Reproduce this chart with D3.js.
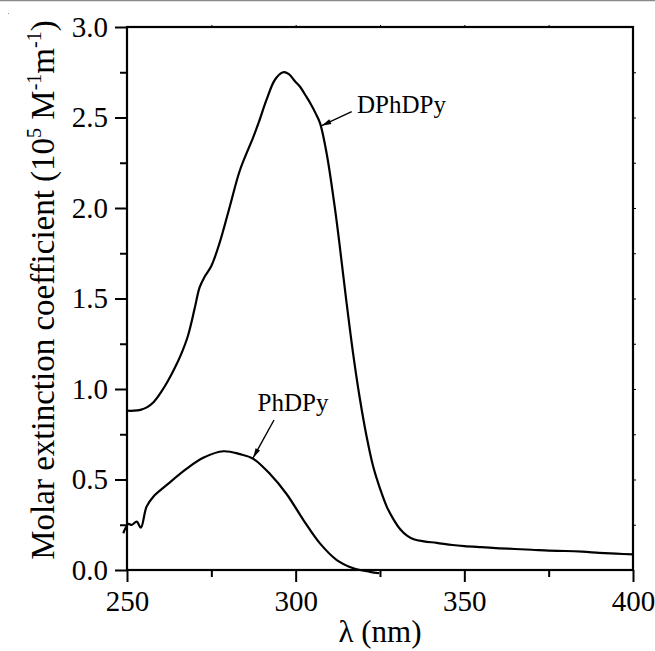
<!DOCTYPE html>
<html>
<head>
<meta charset="utf-8">
<script src="https://cdn.jsdelivr.net/npm/d3@7"></script>
<style>
  html, body { margin: 0; padding: 0; background: #fff; }
  svg { display: block; }
  text { font-family: "Liberation Serif", "Times New Roman", serif; fill: #000; }
</style>
</head>
<body>
<svg id="chart" width="655" height="651"></svg>
<script>
// ---- data ----
const dphdpyWavelength = [250,252,254,256,258,260,262,264,266,268,270,271.5,273,275,277.5,280.5,283.5,287.4,289,291.4,293.9,296.3,298,299.8,301.3,303,304.3,306,307.2,309.2,311.7,313,315,317,319,321,323,325,327,329,331,333,335,338,341.8,346.5,350,355,360.4,365,370,375,380,385,390,395,400];
const dphdpyValues     = [0.88,0.88,0.885,0.90,0.93,0.98,1.04,1.11,1.19,1.29,1.44,1.56,1.62,1.68,1.81,2.01,2.21,2.39,2.47,2.60,2.71,2.75,2.74,2.70,2.67,2.62,2.58,2.52,2.47,2.30,1.99,1.80,1.49,1.20,0.95,0.74,0.57,0.45,0.35,0.28,0.225,0.19,0.17,0.158,0.150,0.138,0.132,0.126,0.12,0.116,0.112,0.107,0.105,0.101,0.095,0.09,0.086];

const phdpyWavelength = [248.9,250.4,251.4,252.9,254.1,255.8,257.8,261.8,267.7,272.6,278.6,283.5,287.4,292.4,297.3,302.3,307.2,312.2,317.1,322,324.8];
const phdpyValues     = [0.203,0.254,0.249,0.267,0.234,0.35,0.405,0.47,0.56,0.62,0.656,0.64,0.615,0.53,0.42,0.276,0.147,0.055,0.01,-0.01,-0.018];

const xMajorTicks = [250,300,350,400];
const xMinorTicks = [275,325,375];
const yMajorTicks = [0,0.5,1.0,1.5,2.0,2.5,3.0];
const yMinorTicks = [0.25,0.75,1.25,1.75,2.25,2.75];

const seriesLabels = ["DPhDPy","PhDPy"];
const xTitle = "λ (nm)";

// ---- chart ----
const svg = d3.select("#chart");
const mLeft = 127, mRight = 633, mTop = 27, mBottom = 570;
const x = d3.scaleLinear().domain([250,400]).range([mLeft,mRight]);
const y = d3.scaleLinear().domain([0,3]).range([mBottom,mTop]);

// top gray rule
svg.append("line").attr("x1",0).attr("x2",655).attr("y1",0.5).attr("y2",0.5)
  .attr("stroke","#8a8a8a").attr("stroke-width",1.5);
svg.append("rect").attr("x",8).attr("y",13).attr("width",1).attr("height",1).attr("fill","#999");

const fontTick = 29;

// bottom axis (major)
const gx = svg.append("g").attr("transform",`translate(0,${mBottom})`)
  .call(d3.axisBottom(x).tickValues(xMajorTicks).tickSize(12).tickPadding(8).tickFormat(d3.format("d")));
gx.select(".domain").remove();
gx.selectAll(".tick line").attr("stroke","#000").attr("stroke-width",2);
gx.selectAll(".tick text").attr("font-size",fontTick).attr("font-family","Liberation Serif");
const gxm = svg.append("g").attr("transform",`translate(0,${mBottom})`)
  .call(d3.axisBottom(x).tickValues(xMinorTicks).tickSize(7).tickFormat(""));
gxm.select(".domain").remove();
gxm.selectAll(".tick line").attr("stroke","#000").attr("stroke-width",2);

// left axis
const gy = svg.append("g").attr("transform",`translate(${mLeft},0)`)
  .call(d3.axisLeft(y).tickValues(yMajorTicks).tickSize(12).tickPadding(7).tickFormat(d3.format(".1f")));
gy.select(".domain").remove();
gy.selectAll(".tick line").attr("stroke","#000").attr("stroke-width",2);
gy.selectAll(".tick text").attr("font-size",fontTick).attr("font-family","Liberation Serif");
const gym = svg.append("g").attr("transform",`translate(${mLeft},0)`)
  .call(d3.axisLeft(y).tickValues(yMinorTicks).tickSize(7).tickFormat(""));
gym.select(".domain").remove();
gym.selectAll(".tick line").attr("stroke","#000").attr("stroke-width",2);

// top and right small ticks
const gt = svg.append("g").attr("transform",`translate(0,${mTop})`)
  .call(d3.axisTop(x).tickValues([275,300,325,350,375]).tickSize(2).tickFormat(""));
gt.select(".domain").remove();
gt.selectAll(".tick line").attr("stroke","#000").attr("stroke-width",1);
const gr = svg.append("g").attr("transform",`translate(${mRight},0)`)
  .call(d3.axisRight(y).tickValues(yMinorTicks.concat([0.5,1,1.5,2,2.5])).tickSize(3).tickFormat(""));
gr.select(".domain").remove();
gr.selectAll(".tick line").attr("stroke","#000").attr("stroke-width",1);

// frame
svg.append("rect").attr("x",mLeft).attr("y",mTop).attr("width",mRight-mLeft).attr("height",mBottom-mTop)
  .attr("fill","none").attr("stroke","#000").attr("stroke-width",2.2);

// curves
const line = d3.line().x(d => x(d[0])).y(d => y(d[1])).curve(d3.curveCatmullRom.alpha(0.5));
svg.append("path").datum(d3.zip(dphdpyWavelength, dphdpyValues))
  .attr("d",line).attr("fill","none").attr("stroke","#000").attr("stroke-width",2.2).attr("stroke-linejoin","round");
svg.append("path").datum(d3.zip(phdpyWavelength, phdpyValues))
  .attr("d",line).attr("fill","none").attr("stroke","#000").attr("stroke-width",2.2).attr("stroke-linejoin","round");

// arrows
const defs = svg.append("defs");
defs.append("marker").attr("id","arr").attr("viewBox","0 0 12 10").attr("refX",12).attr("refY",5)
  .attr("markerWidth",11).attr("markerHeight",8).attr("markerUnits","userSpaceOnUse").attr("orient","auto")
  .append("path").attr("d","M0,1.8 L12,5 L0,8.2 Z").attr("fill","#000");

svg.append("line").attr("x1",351.7).attr("y1",111.7).attr("x2",x(307.7)).attr("y2",y(2.455))
  .attr("stroke","#000").attr("stroke-width",1.4).attr("marker-end","url(#arr)");
svg.append("text").attr("x",357).attr("y",113).attr("font-size",25).text(seriesLabels[0]);

svg.append("line").attr("x1",274).attr("y1",420).attr("x2",x(287.4)).attr("y2",y(0.62))
  .attr("stroke","#000").attr("stroke-width",1.4).attr("marker-end","url(#arr)");
svg.append("text").attr("x",293).attr("y",411).attr("text-anchor","middle").attr("font-size",25).text(seriesLabels[1]);

// axis titles
svg.append("text").attr("x",(mLeft+mRight)/2).attr("y",642).attr("text-anchor","middle")
  .attr("font-size",31).text(xTitle);

const yt = svg.append("text").attr("transform","translate(54,290) rotate(-90)")
  .attr("text-anchor","middle").attr("font-size",33);
yt.append("tspan").text("Molar extinction coefficient (10");
yt.append("tspan").attr("dy",-13).attr("font-size",20).text("5");
yt.append("tspan").attr("dy",13).text(" M");
yt.append("tspan").attr("dy",-13).attr("font-size",20).text("-1");
yt.append("tspan").attr("dy",13).text("m");
yt.append("tspan").attr("dy",-13).attr("font-size",20).text("-1");
yt.append("tspan").attr("dy",13).text(")");
</script>
</body>
</html>
